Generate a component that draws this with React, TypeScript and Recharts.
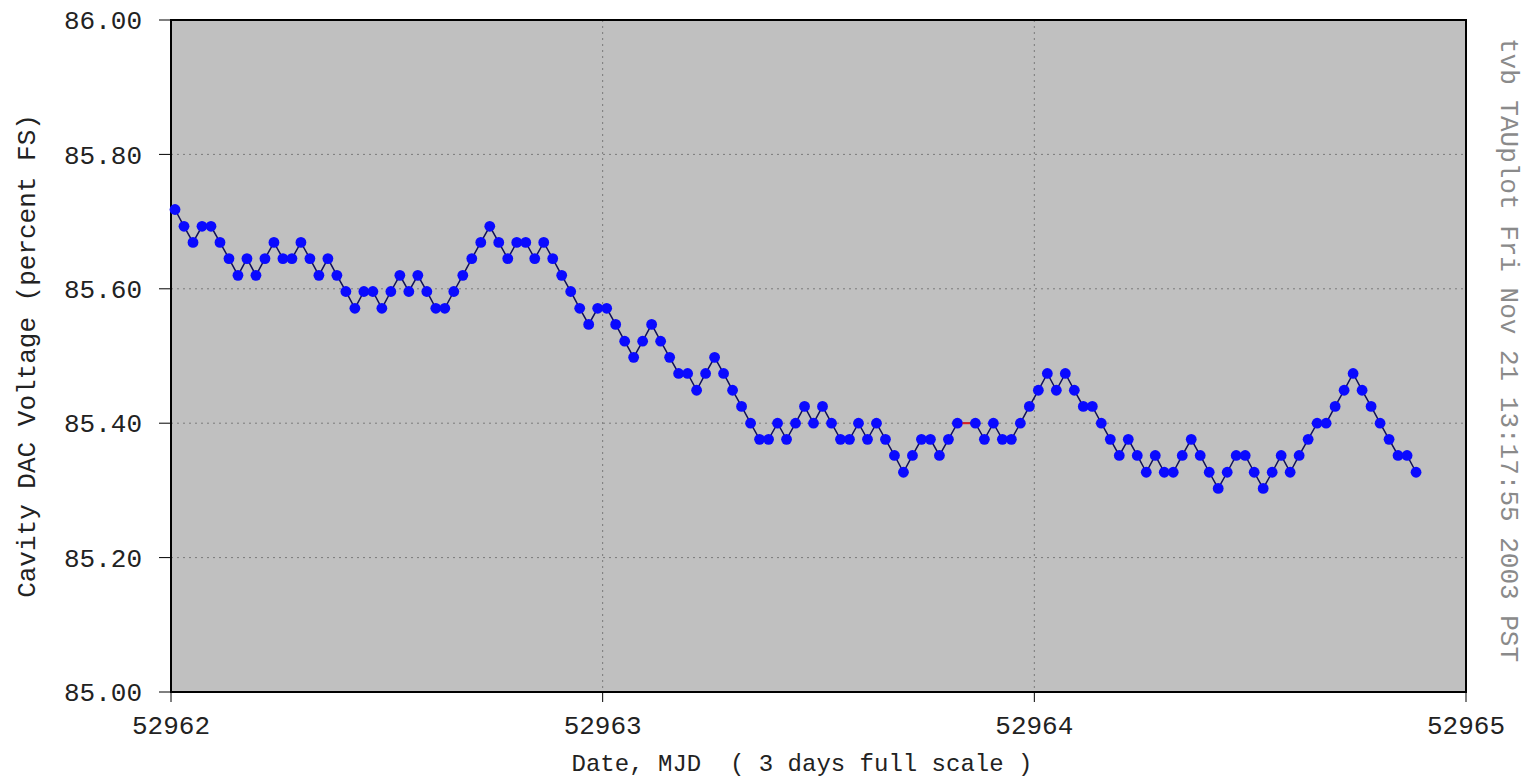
import React from 'react';
import { LineChart, Line, XAxis, YAxis, CartesianGrid, ReferenceArea } from 'recharts';

// Cavity DAC voltage, percent FS, one sample every 30 minutes
const DAY1_VALUES = [
  85.718, 85.693, 85.669, 85.693, 85.693, 85.669, 85.645, 85.620, 85.645, 85.620, 85.645, 85.669,
  85.645, 85.645, 85.669, 85.645, 85.620, 85.645, 85.620, 85.596, 85.571, 85.596, 85.596, 85.571,
  85.596, 85.620, 85.596, 85.620, 85.596, 85.571, 85.571, 85.596, 85.620, 85.645, 85.669, 85.693,
  85.669, 85.645, 85.669, 85.669, 85.645, 85.669, 85.645, 85.620, 85.596, 85.571, 85.547,
];
const DAY2_VALUES = [
  85.571, 85.571, 85.547, 85.522, 85.498, 85.522, 85.547, 85.522, 85.498, 85.474, 85.474, 85.449,
  85.474, 85.498, 85.474, 85.449, 85.425, 85.400, 85.376, 85.376, 85.400, 85.376,
  85.400, 85.425, 85.400, 85.425, 85.400, 85.376, 85.376, 85.400, 85.376, 85.400, 85.376, 85.352,
  85.327, 85.352, 85.376, 85.376, 85.352, 85.376, 85.400, 85.400, 85.400, 85.376, 85.400, 85.376,
  85.376,
];
const DAY3_VALUES = [
  85.400, 85.425, 85.449, 85.474, 85.449, 85.474, 85.449, 85.425, 85.425, 85.400, 85.376, 85.352,
  85.376, 85.352, 85.327, 85.352, 85.327, 85.327, 85.352, 85.376, 85.352, 85.327, 85.303,
  85.327, 85.352, 85.352, 85.327, 85.303, 85.327, 85.352, 85.327, 85.352, 85.376, 85.400, 85.400,
  85.425, 85.449, 85.474, 85.449, 85.425, 85.400, 85.376, 85.352, 85.352, 85.327,
];
// sample drawn as a red dash instead of a dot
const FLAGGED_SAMPLES = [88];

const START_MJD = 52962.0093;
const SAMPLE_STEP = 1 / 48;
const X_TICKS = [52962, 52963, 52964, 52965];
const Y_TICKS = [85.0, 85.2, 85.4, 85.6, 85.8, 86.0];

const values = [...DAY1_VALUES, ...DAY2_VALUES, ...DAY3_VALUES];
const data = values.map((v, i) => ({ mjd: START_MJD + i * SAMPLE_STEP, v, flag: FLAGGED_SAMPLES.includes(i) }));

const FONT = '"Liberation Mono", "Courier New", monospace';

const Dot = (props: any) => {
  const { cx, cy, payload, index } = props;
  if (cx == null || cy == null) return null;
  if (payload.flag) {
    return <rect key={index} x={cx - 4} y={cy - 1} width={8} height={2} fill="#e02020" />;
  }
  return <circle key={index} cx={cx} cy={cy} r={5.4} fill="#0a0aff" stroke="none" />;
};

export default function App() {
  return (
    <div style={{ position: 'absolute', top: 0, left: 0, width: 1530, height: 780, background: '#fff' }}>
      <LineChart width={1530} height={780} data={data} margin={{ top: 20, right: 64, bottom: 0, left: 71 }}>
        <CartesianGrid fill="#c0c0c0" fillOpacity={1} stroke="#7a7a7a" strokeDasharray="2 4" />
        <XAxis
          dataKey="mjd"
          type="number"
          domain={[52962, 52965]}
          ticks={X_TICKS}
          height={88}
          tickSize={10}
          tickMargin={14}
          axisLine={{ stroke: '#000', strokeWidth: 2 }}
          tickLine={{ stroke: '#000' }}
          tick={{ fill: '#222', fontSize: 26, fontFamily: FONT }}
          interval={0}
        />
        <YAxis
          type="number"
          domain={[85, 86]}
          ticks={Y_TICKS}
          width={100}
          tickSize={12}
          tickMargin={17}
          tickFormatter={(v: number) => v.toFixed(2)}
          axisLine={{ stroke: '#000', strokeWidth: 2 }}
          tickLine={{ stroke: '#000' }}
          tick={{ fill: '#222', fontSize: 26, fontFamily: FONT }}
          interval={0}
        />
        <ReferenceArea x1={52962} x2={52965} y1={85} y2={86} fill="none" stroke="#000" strokeWidth={2} />
        <Line
          dataKey="v"
          stroke="#10105a"
          strokeWidth={1.5}
          dot={<Dot />}
          activeDot={false}
          isAnimationActive={false}
        />
      </LineChart>
      <svg width={1530} height={780} style={{ position: 'absolute', top: 0, left: 0, pointerEvents: 'none' }}>
        <text
          x={28}
          y={356}
          transform="rotate(-90 28 356)"
          textAnchor="middle"
          dominantBaseline="central"
          fontSize={26}
          fontFamily={FONT}
          fill="#222"
        >
          Cavity DAC Voltage (percent FS)
        </text>
        <text x={802} y={771} textAnchor="middle" fontSize={24} fontFamily={FONT} fill="#222" style={{ whiteSpace: 'pre' }}>
          {'Date, MJD  ( 3 days full scale )'}
        </text>
        <text
          x={1508}
          y={350}
          transform="rotate(90 1508 350)"
          textAnchor="middle"
          dominantBaseline="central"
          fontSize={26}
          fontFamily={FONT}
          fill="#8a8a8a"
        >
          tvb TAUplot Fri Nov 21 13:17:55 2003 PST
        </text>
      </svg>
    </div>
  );
}
